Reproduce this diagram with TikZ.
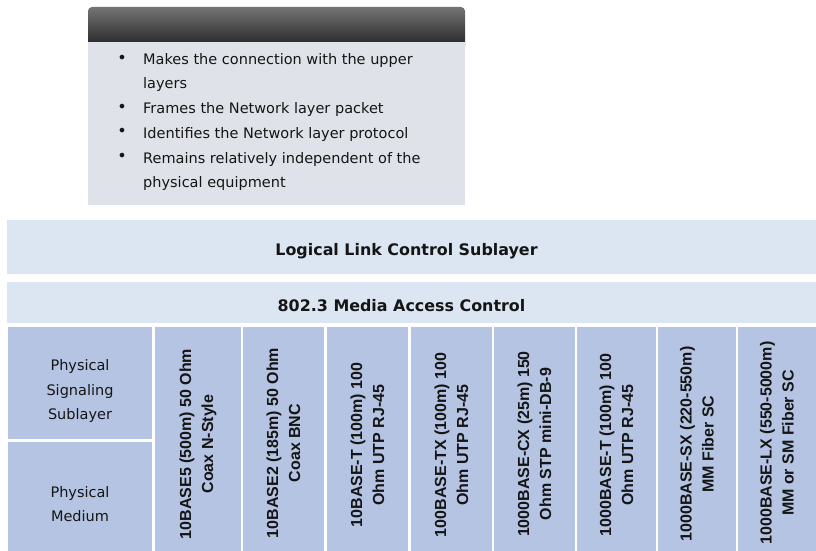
\documentclass[tikz,border=0pt]{standalone}
\usepackage{fontspec}
\setmainfont{DejaVu Sans}
\newfontfamily\colfont{Liberation Sans}
\definecolor{colfill}{HTML}{B4C4E2}
\definecolor{bandfill}{HTML}{DCE6F2}
\definecolor{bodyfill}{HTML}{DFE3E9}
\definecolor{hdtop}{HTML}{747474}
\definecolor{hdmid}{HTML}{484848}
\definecolor{hdbot}{HTML}{1E1E1E}
\definecolor{txt}{HTML}{151515}
\begin{document}
\begin{tikzpicture}[x=1pt,y=-1pt,
  box/.style={draw=none,inner sep=0pt,anchor=north west},
  cell/.style={box,fill=colfill},
  band/.style={box,fill=bandfill},
  coltext/.style={rotate=90,align=center,inner sep=0pt,text=txt,
    font=\colfont\bfseries\fontsize{16}{22}\selectfont},
  bandtext/.style={anchor=base,inner sep=0pt,text=txt,
    font=\bfseries\fontsize{15.9}{19}\selectfont},
  lefttext/.style={anchor=base,inner sep=0pt,text=txt,
    font=\fontsize{14.5}{18}\selectfont},
  itemtext/.style={anchor=base west,inner sep=0pt,text=txt,
    font=\fontsize{14.5}{18}\selectfont},
  dot/.style={inner sep=0pt,text=txt,font=\fontsize{16}{16}\selectfont}]
\useasboundingbox[fill=white] (0,0) rectangle (816,551);

% top box
\shade[top color=hdtop,middle color=hdmid,bottom color=hdbot,rounded corners=4pt] (88,7) rectangle (465,50);
\node[box,fill=bodyfill,minimum width=377pt,minimum height=163pt] (body) at (88,42) {};
\node[dot] (b1) at (122,59) {•};
\node[dot] (b2) at (122,108) {•};
\node[dot] (b3) at (122,132.5) {•};
\node[dot] (b4) at (122,157.5) {•};
\node[itemtext] (i1a) at (143,64.5) {Makes the connection with the upper};
\node[itemtext] (i1b) at (143,88.5) {layers};
\node[itemtext] (i2) at (143,113.5) {Frames the Network layer packet};
\node[itemtext] (i3) at (143,138) {Identifies the Network layer protocol};
\node[itemtext] (i4a) at (143,163) {Remains relatively independent of the};
\node[itemtext] (i4b) at (143,187.5) {physical equipment};

% bands
\node[band,minimum width=809pt,minimum height=54pt] (llc) at (7,220) {};
\node[bandtext] (llct) at (406.5,255) {Logical Link Control Sublayer};
\node[band,minimum width=809pt,minimum height=41pt] (mac) at (7,282) {};
\node[bandtext] (mact) at (401.5,311.5) {802.3 Media Access Control};

% left cells
\node[cell,minimum width=144pt,minimum height=112pt] (ps) at (8,327) {};
\node[lefttext] (ps1) at (80,370.5) {Physical};
\node[lefttext] (ps2) at (80,395.5) {Signaling};
\node[lefttext] (ps3) at (80,419) {Sublayer};
\node[cell,minimum width=144pt,minimum height=109pt] (pm) at (8,442) {};
\node[lefttext] (pm1) at (80,497.5) {Physical};
\node[lefttext] (pm2) at (80,521.5) {Medium};

% media columns
\node[cell,minimum width=86pt,minimum height=224pt] (c1) at (155,327) {};
\node[cell,minimum width=81pt,minimum height=224pt] (c2) at (243,327) {};
\node[cell,minimum width=81pt,minimum height=224pt] (c3) at (327,327) {};
\node[cell,minimum width=81pt,minimum height=224pt] (c4) at (411,327) {};
\node[cell,minimum width=81pt,minimum height=224pt] (c5) at (494,327) {};
\node[cell,minimum width=79pt,minimum height=224pt] (c6) at (577,327) {};
\node[cell,minimum width=78pt,minimum height=224pt] (c7) at (658,327) {};
\node[cell,minimum width=78pt,minimum height=224pt] (c8) at (738,327) {};

\node[coltext] (t1) at (198,444) {10BASE5 (500m) 50 Ohm\\Coax N-Style};
\node[coltext] (t2) at (283.5,443) {10BASE2 (185m) 50 Ohm\\Coax BNC};
\node[coltext] (t3) at (367.5,445) {10BASE-T (100m) 100\\Ohm UTP RJ-45};
\node[coltext] (t4) at (451.5,445) {100BASE-TX (100m) 100\\Ohm UTP RJ-45};
\node[coltext] (t5) at (534.5,444) {1000BASE-CX (25m) 150\\Ohm STP mini-DB-9};
\node[coltext] (t6) at (616.5,445) {1000BASE-T (100m) 100\\Ohm UTP RJ-45};
\node[coltext] (t7) at (697,444) {1000BASE-SX (220-550m)\\MM Fiber SC};
\node[coltext] (t8) at (777,443) {1000BASE-LX (550-5000m)\\MM or SM Fiber SC};
\end{tikzpicture}
\end{document}
